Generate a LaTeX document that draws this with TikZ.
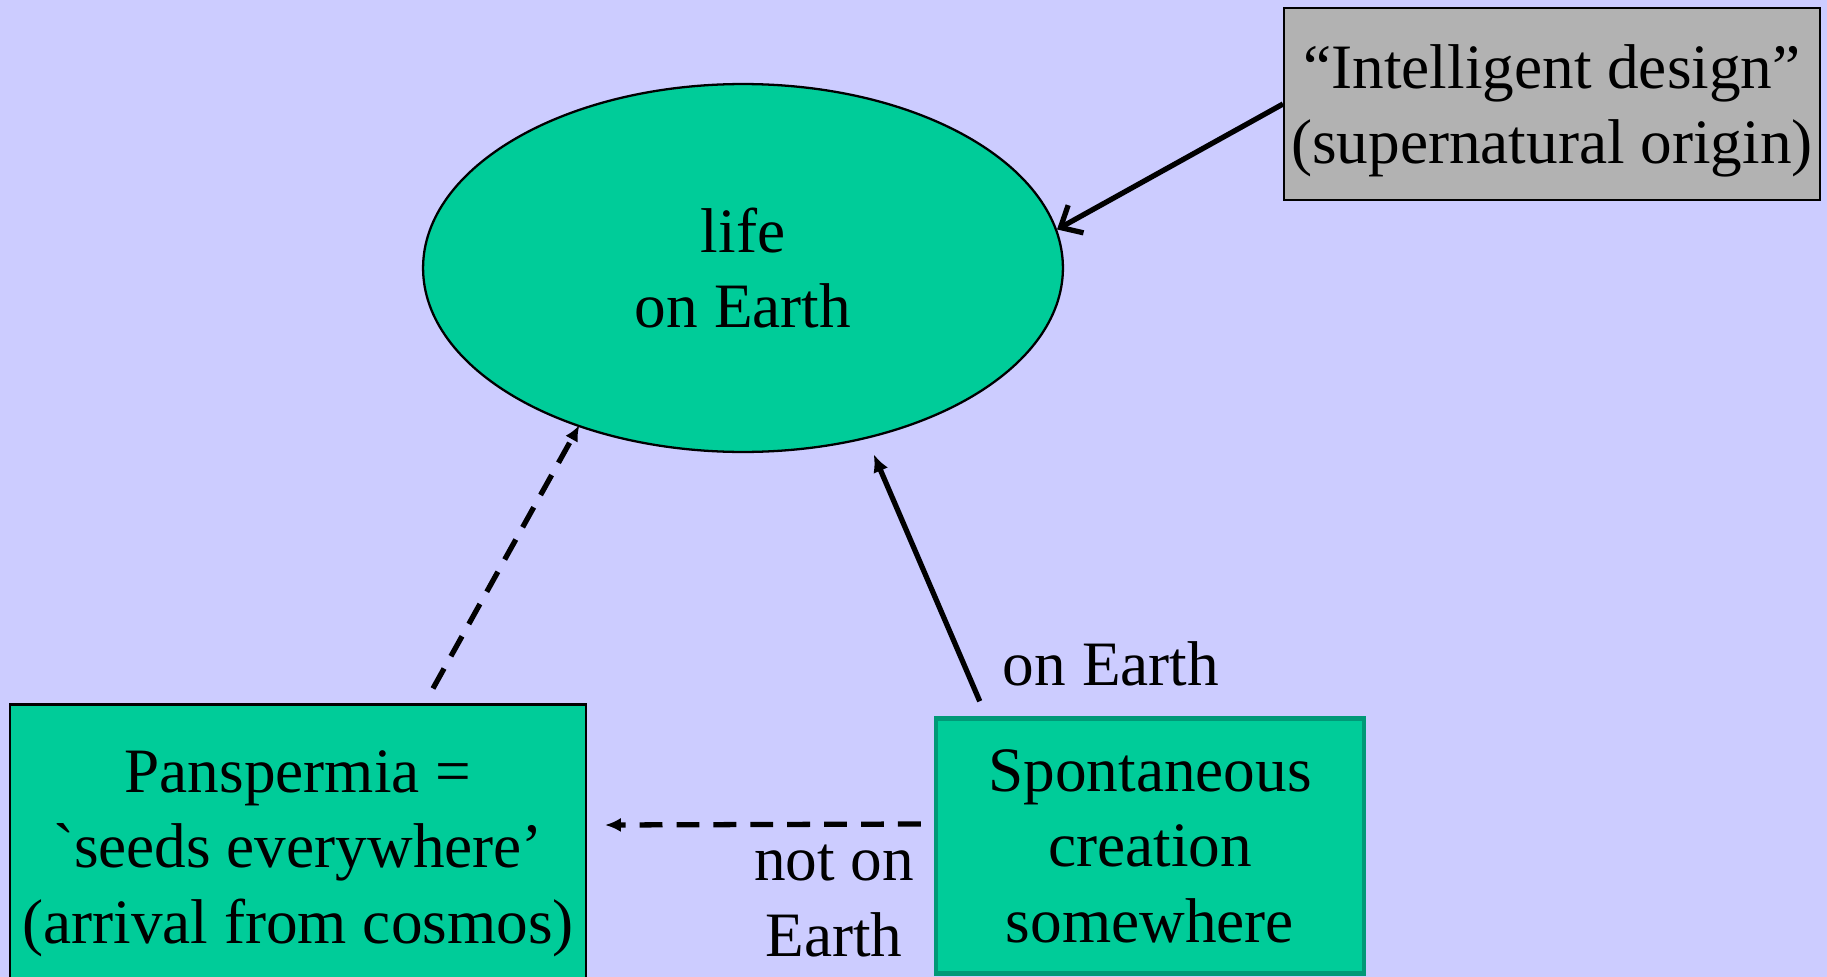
\documentclass[tikz,border=0pt]{standalone}
\usepackage{fontspec}
\setmainfont{LiberationSerif-Regular.ttf}
\newfontfamily\rawserif{LiberationSerif-Regular.ttf}[Ligatures=TeXOff]
\usetikzlibrary{arrows.meta,shapes.geometric}

\definecolor{slide}{HTML}{CCCCFF}
\definecolor{leaf}{HTML}{00CC99}
\definecolor{leafdark}{HTML}{009977}
\definecolor{godgray}{HTML}{B2B2B2}

\begin{document}
\begin{tikzpicture}[
    x=0.02cm, y=-0.02cm,
    every node/.style={font=\fontsize{36}{43}\selectfont, align=center, inner sep=0pt},
    idea/.style={rectangle, draw=black, line width=1.2pt, fill=leaf},
    solidlink/.style={draw, line width=3pt, -{Latex[length=10pt,width=9pt]}},
    dashlink/.style={draw, line width=3pt, dash pattern=on 13pt off 8pt, -{Latex[length=9pt,width=8pt]}}
]
\fill[slide] (0,0) rectangle (1827,977);
\useasboundingbox (0,0) rectangle (1827,977);

\node[ellipse, draw, line width=1.3pt, fill=leaf, minimum width=12.8cm, minimum height=7.36cm] (life) at (743,268) {life\\on Earth};
\node[idea, fill=godgray, text depth=0pt, minimum width=10.72cm, minimum height=3.84cm] (design) at (1552,104) {``Intelligent design''\\(supernatural origin)};
\node[idea, text depth=0pt, minimum width=11.52cm, minimum height=5.7cm] (pan) at (298,847) {Panspermia =\\{\rawserif`}seeds everywhere'\\(arrival from cosmos)};
\node[idea, draw=leafdark, line width=2.6pt, minimum width=8.56cm, minimum height=5.1cm] (spont) at (1150,846) {Spontaneous\\creation\\somewhere};

\node (onearth) at (1111,664) {on Earth};
\node (notonearth) at (834,901) {not on\\Earth};

% connectors
\draw[line width=3pt, -{Straight Barb[length=10pt,width=18pt]}] (design.west) -- (life.7);
\draw[solidlink, shorten >=0.34cm] ([xshift=0.92cm,yshift=0.3cm]spont.north west) -- (life.-54);
\draw[dashlink, shorten >=-0.04cm] ([xshift=2.7cm,yshift=0.3cm]pan.north) -- (life.224);
\draw[dashlink] ([xshift=-0.26cm,yshift=0.44cm]spont.west) -- ([xshift=0.36cm,yshift=0.44cm]pan.east);

\end{tikzpicture}
\end{document}
